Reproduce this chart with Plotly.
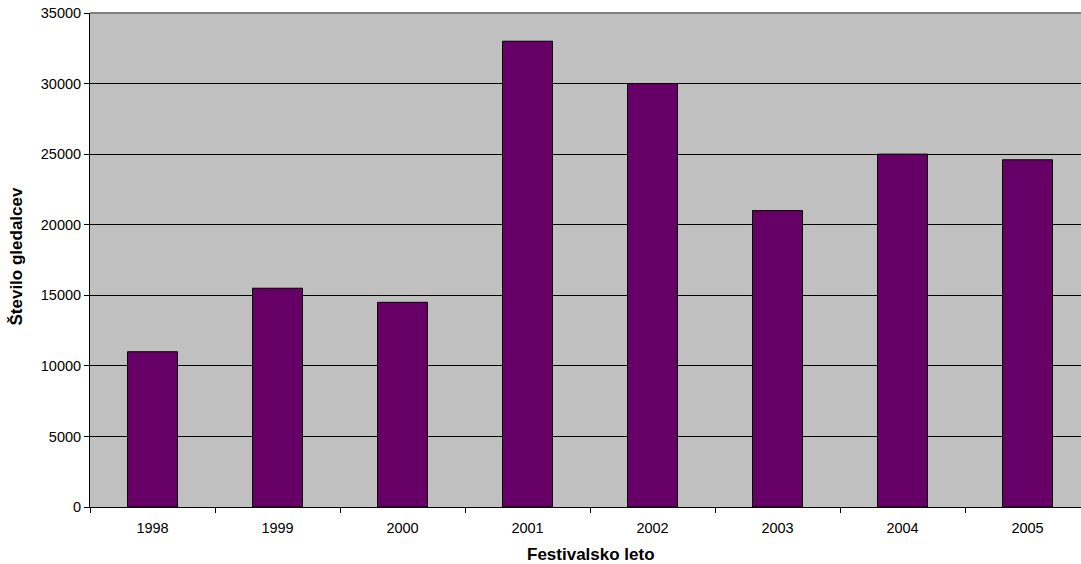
import plotly.graph_objects as go

years = ["1998", "1999", "2000", "2001", "2002", "2003", "2004", "2005"]
viewers = [11000, 15500, 14500, 33000, 30000, 21000, 25000, 24600]
y_ticks = [0, 5000, 10000, 15000, 20000, 25000, 30000, 35000]

fig = go.Figure(go.Bar(
    x=years, y=viewers,
    marker=dict(color="#660066", line=dict(color="#000000", width=1)),
))

fig.update_layout(
    width=1081, height=564,
    margin=dict(l=90, r=0, t=13, b=57),
    paper_bgcolor="white", plot_bgcolor="#C0C0C0",
    bargap=0.6,
    font=dict(family="Liberation Sans, Arial", size=14.5, color="black"),
    showlegend=False,
    xaxis=dict(
        type="category", range=[-0.5, 7.428],
        showline=True, linecolor="black", linewidth=1,
        ticks="outside", tickson="boundaries", ticklen=5, tickcolor="black",
        ticklabelstandoff=8, automargin=False,
        tickfont=dict(size=14.5),
    ),
    yaxis=dict(
        range=[0, 35000], tickvals=y_ticks, ticktext=[str(v) for v in y_ticks],
        showline=True, linecolor="black", linewidth=1,
        ticks="outside", ticklen=5, tickcolor="black", automargin=False,
        showgrid=True, gridcolor="black", gridwidth=1, zeroline=False,
        tickfont=dict(size=14.5),
    ),
    annotations=[
        dict(text="<b>Festivalsko leto</b>", xref="paper", yref="paper",
             x=0.5055, y=-0.096, xanchor="center", yanchor="middle",
             showarrow=False, font=dict(size=17)),
        dict(text="<b>Število gledalcev</b>", xref="paper", yref="paper",
             x=-0.0742, y=0.508, xanchor="center", yanchor="middle",
             textangle=-90, showarrow=False, font=dict(size=17)),
    ],
    shapes=[dict(type="line", xref="paper", yref="paper", x0=0, x1=1, y0=1, y1=1,
                 line=dict(color="#808080", width=2), layer="above")],
)

fig.write_html("out.html")
